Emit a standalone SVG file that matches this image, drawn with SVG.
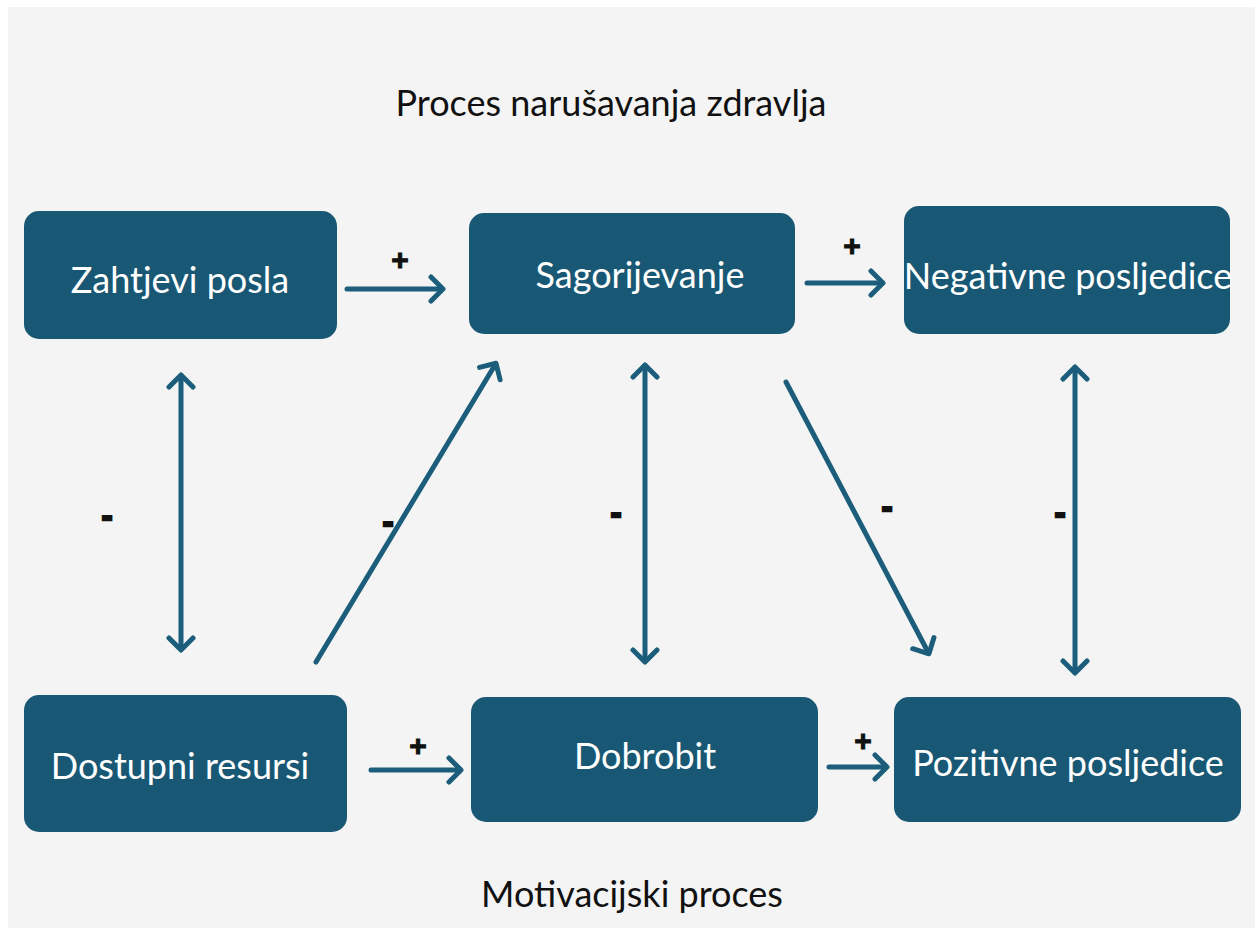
<svg xmlns="http://www.w3.org/2000/svg" width="1255" height="934" viewBox="0 0 1255 934">
<style>
.box{fill:#195874}
.lbl{font-family:Lato,"Liberation Sans",sans-serif;font-size:36px;fill:#ffffff;text-anchor:middle}
.title{font-family:Lato,"Liberation Sans",sans-serif;font-size:36px;fill:#111111;text-anchor:middle}
.sign{font-family:"Liberation Sans",Arial,sans-serif;font-size:30px;font-weight:bold;fill:#111111;stroke:#111111;stroke-width:1;text-anchor:middle}
.minus{font-family:"Liberation Sans",Arial,sans-serif;font-size:32px;font-weight:bold;fill:#111111;stroke:#111111;stroke-width:2.5;text-anchor:middle}
.con{stroke:#1b5d7a;stroke-width:5;fill:none;stroke-linecap:round}
</style>
<defs>
<marker id="ah" viewBox="0 0 20 30" markerWidth="20" markerHeight="30" refX="14" refY="15" orient="auto-start-reverse" markerUnits="userSpaceOnUse">
<path d="M4,3 L16,15 L4,27" fill="none" stroke="#1b5d7a" stroke-width="5" stroke-linecap="round" stroke-linejoin="round"/>
</marker>
</defs>
<rect x="0" y="0" width="1255" height="934" fill="#ffffff"/>
<rect x="8" y="7" width="1247" height="921" fill="#f4f4f4"/>
<text class="title" x="611" y="116">Proces narušavanja zdravlja</text>
<text class="title" x="632" y="907">Motivacijski proces</text>
<g id="n-zahtjevi"><rect class="box" x="24" y="211" width="313" height="128" rx="15"/><text class="lbl" x="180" y="293">Zahtjevi posla</text></g>
<g id="n-sagorijevanje"><rect class="box" x="469" y="213" width="326" height="121" rx="15"/><text class="lbl" x="640" y="288">Sagorijevanje</text></g>
<g id="n-negativne"><rect class="box" x="904" y="206" width="326" height="128" rx="15"/><text class="lbl" x="1068" y="289">Negativne posljedice</text></g>
<g id="n-dostupni"><rect class="box" x="24" y="695" width="323" height="137" rx="15"/><text class="lbl" x="180" y="779">Dostupni resursi</text></g>
<g id="n-dobrobit"><rect class="box" x="471" y="697" width="347" height="125" rx="15"/><text class="lbl" x="645" y="769">Dobrobit</text></g>
<g id="n-pozitivne"><rect class="box" x="894" y="697" width="347" height="125" rx="15"/><text class="lbl" x="1068" y="776">Pozitivne posljedice</text></g>
<g id="connectors">
<line class="con" x1="347" y1="289" x2="441" y2="289" marker-end="url(#ah)"/>
<line class="con" x1="807" y1="283" x2="881" y2="283" marker-end="url(#ah)"/>
<line class="con" x1="371" y1="770" x2="459" y2="770" marker-end="url(#ah)"/>
<line class="con" x1="829" y1="767" x2="885" y2="767" marker-end="url(#ah)"/>
<line class="con" x1="181" y1="377" x2="181" y2="648" marker-start="url(#ah)" marker-end="url(#ah)"/>
<line class="con" x1="645" y1="367" x2="645" y2="660" marker-start="url(#ah)" marker-end="url(#ah)"/>
<line class="con" x1="1075" y1="369" x2="1075" y2="671" marker-start="url(#ah)" marker-end="url(#ah)"/>
<line class="con" x1="316" y1="662" x2="495" y2="365" marker-end="url(#ah)"/>
<line class="con" x1="786" y1="382" x2="928" y2="652" marker-end="url(#ah)"/>
<text class="sign" x="400" y="270">+</text>
<text class="sign" x="852" y="256">+</text>
<text class="sign" x="418" y="756">+</text>
<text class="sign" x="863" y="751">+</text>
<text class="minus" x="107" y="526">-</text>
<text class="minus" x="388" y="532">-</text>
<text class="minus" x="616" y="523">-</text>
<text class="minus" x="887" y="517">-</text>
<text class="minus" x="1060" y="523">-</text>
</g>
</svg>
